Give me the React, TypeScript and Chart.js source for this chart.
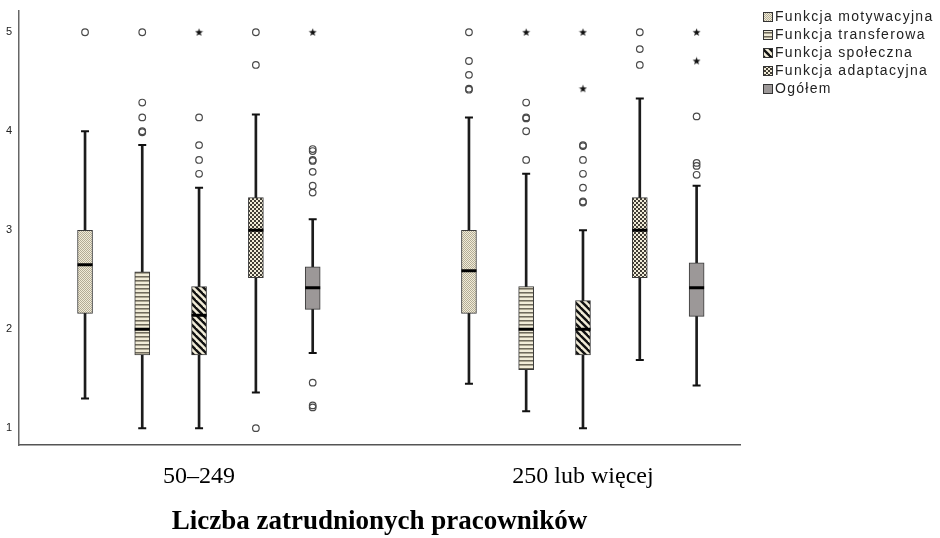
import { useEffect, useRef } from "react";
import { Chart, registerables } from "chart.js";

Chart.register(...registerables);

// Company size groups on the x axis
const GROUPS = ["50–249", "250 lub więcej"];
const SERIES = [
  "Funkcja motywacyjna",
  "Funkcja transferowa",
  "Funkcja społeczna",
  "Funkcja adaptacyjna",
  "Ogółem",
];
const Y_TICKS = [1, 2, 3, 4, 5];
const X_TITLE = "Liczba zatrudnionych pracowników";

// Box-plot statistics: one row per series, one value per group
const WHISKER_LOW = [[1.3, 1.45], [1.0, 1.17], [1.0, 1.0], [1.36, 1.69], [1.76, 1.43]];
const Q1 = [[2.16, 2.16], [1.74, 1.59], [1.74, 1.74], [2.52, 2.52], [2.2, 2.13]];
const MEDIAN = [[2.65, 2.59], [2.0, 2.0], [2.14, 2.0], [3.0, 3.0], [2.42, 2.42]];
const Q3 = [[3.0, 3.0], [2.58, 2.43], [2.43, 2.29], [3.33, 3.33], [2.63, 2.67]];
const WHISKER_HIGH = [[4.0, 4.14], [3.86, 3.57], [3.43, 3.0], [4.17, 4.33], [3.11, 3.45]];

// Outliers (circles) and extreme values (stars)
const OUTLIERS = [
  [[5.0], [5.0, 4.71, 4.57, 4.43, 4.42]],
  [[5.0, 4.29, 4.14, 4.0, 3.99], [4.29, 4.14, 4.13, 4.0, 3.71]],
  [[4.14, 3.86, 3.71, 3.57], [3.86, 3.85, 3.71, 3.57, 3.43, 3.29, 3.28]],
  [[5.0, 4.67, 1.0], [5.0, 4.83, 4.67]],
  [[3.82, 3.8, 3.71, 3.7, 3.59, 3.45, 3.38, 1.46, 1.23, 1.21], [4.15, 3.68, 3.65, 3.56]],
];
const EXTREMES = [
  [[], []],
  [[], [5.0]],
  [[5.0], [5.0, 4.43]],
  [[], []],
  [[5.0], [5.0, 4.71]],
];

// horizontal offset of each series inside its group (x-axis units)
const SERIES_OFFSET = [-0.297, -0.148, 0, 0.148, 0.296];

const CREAM = "#f1ecd8";

function tile(size: number, draw: (c: CanvasRenderingContext2D) => void): CanvasPattern | string {
  const cv = document.createElement("canvas");
  cv.width = size;
  cv.height = size;
  const c = cv.getContext("2d")!;
  draw(c);
  const p = c.createPattern(cv, "repeat");
  return p || CREAM;
}

function makeFills(): (CanvasPattern | string)[] {
  const dots = tile(2, (c) => {
    c.fillStyle = CREAM;
    c.fillRect(0, 0, 2, 2);
    c.fillStyle = "#b3ac96";
    c.fillRect(0, 0, 1, 1);
    c.fillRect(1, 1, 1, 1);
  });
  const stripes = tile(4, (c) => {
    c.fillStyle = CREAM;
    c.fillRect(0, 0, 4, 4);
    c.fillStyle = "#6f6a5c";
    c.fillRect(0, 0, 4, 1);
    c.fillStyle = "#aaa490";
    c.fillRect(0, 1, 4, 1);
  });
  const diagonal = tile(7, (c) => {
    c.fillStyle = CREAM;
    c.fillRect(0, 0, 7, 7);
    c.strokeStyle = "#111";
    c.lineWidth = 2.4;
    for (const k of [-7, 0, 7]) {
      c.beginPath();
      c.moveTo(k - 1, -1);
      c.lineTo(k + 8, 8);
      c.stroke();
    }
  });
  const checker = tile(4, (c) => {
    c.fillStyle = "#423e36";
    c.fillRect(0, 0, 4, 4);
    c.fillStyle = CREAM;
    c.fillRect(0, 0, 2, 2);
    c.fillRect(2, 2, 2, 2);
  });
  return [dots, stripes, diagonal, checker, "#9c9898"];
}

function makeStar(): HTMLCanvasElement {
  const cv = document.createElement("canvas");
  cv.width = 9;
  cv.height = 9;
  const c = cv.getContext("2d")!;
  c.fillStyle = "#111";
  c.beginPath();
  for (let i = 0; i < 10; i++) {
    const r = i % 2 === 0 ? 4.2 : 1.7;
    const a = -Math.PI / 2 + (i * Math.PI) / 5;
    const px = 4.5 + r * Math.cos(a);
    const py = 4.7 + r * Math.sin(a);
    if (i === 0) c.moveTo(px, py);
    else c.lineTo(px, py);
  }
  c.closePath();
  c.fill();
  return cv;
}

const xOf = (s: number, g: number) => g + SERIES_OFFSET[s];

const LEGEND = { dx: 23, top: 17, step: 18, box: 10 };

const legendPlugin = {
  id: "seriesLegend",
  afterDraw(chart: any) {
    const ctx: CanvasRenderingContext2D = chart.ctx;
    const left = chart.chartArea.right + LEGEND.dx;
    const boxes = chart.data.datasets.filter((d: any) => d.isBox);
    ctx.save();
    ctx.font = '14px "Liberation Sans", Arial, sans-serif';
    (ctx as any).letterSpacing = "1.3px";
    ctx.textBaseline = "middle";
    boxes.forEach((ds: any, i: number) => {
      const y = LEGEND.top + i * LEGEND.step;
      ctx.fillStyle = ds.backgroundColor;
      ctx.fillRect(left, y - LEGEND.box / 2, LEGEND.box, LEGEND.box);
      ctx.strokeStyle = "#333";
      ctx.lineWidth = 1;
      ctx.strokeRect(left + 0.5, y - LEGEND.box / 2 + 0.5, LEGEND.box - 1, LEGEND.box - 1);
      ctx.fillStyle = "#222";
      ctx.fillText(ds.label, left + LEGEND.box + 2, y);
    });
    ctx.restore();
  },
};

export default function App() {
  const ref = useRef<HTMLCanvasElement | null>(null);

  useEffect(() => {
    if (!ref.current) return;
    const fills = makeFills();
    const star = makeStar();
    const datasets: any[] = [];

    SERIES.forEach((name, s) => {
      // interquartile box
      datasets.push({
        type: "bar",
        label: name,
        isBox: true,
        data: GROUPS.map((_, g) => ({ x: xOf(s, g), y: [Q1[s][g], Q3[s][g]] })),
        backgroundColor: fills[s],
        borderColor: "#3a3a3a",
        borderWidth: 1,
        borderSkipped: false,
        barThickness: 15,
        grouped: false,
        order: 2,
      });
      // whisker stem
      datasets.push({
        type: "bar",
        label: "",
        data: GROUPS.map((_, g) => ({ x: xOf(s, g), y: [WHISKER_LOW[s][g], WHISKER_HIGH[s][g]] })),
        backgroundColor: "#1c1c1c",
        borderWidth: 0,
        barThickness: 2,
        grouped: false,
        order: 3,
      });
      // whisker caps
      datasets.push({
        type: "scatter",
        label: "",
        data: GROUPS.flatMap((_, g) => [
          { x: xOf(s, g), y: WHISKER_LOW[s][g] },
          { x: xOf(s, g), y: WHISKER_HIGH[s][g] },
        ]),
        pointStyle: "line",
        radius: 4,
        borderWidth: 2,
        borderColor: "#111",
        order: 0,
      });
      // median
      datasets.push({
        type: "scatter",
        label: "",
        data: GROUPS.map((_, g) => ({ x: xOf(s, g), y: MEDIAN[s][g] })),
        pointStyle: "line",
        radius: 7.5,
        borderWidth: 3,
        borderColor: "#000",
        order: 0,
      });
      // outliers
      datasets.push({
        type: "scatter",
        label: "",
        data: GROUPS.flatMap((_, g) => OUTLIERS[s][g].map((v) => ({ x: xOf(s, g), y: v }))),
        pointStyle: "circle",
        radius: 3.3,
        borderWidth: 1.2,
        borderColor: "#4a4a4a",
        backgroundColor: "rgba(255,255,255,0)",
        order: 0,
      });
      // extremes
      datasets.push({
        type: "scatter",
        label: "",
        data: GROUPS.flatMap((_, g) => EXTREMES[s][g].map((v) => ({ x: xOf(s, g), y: v }))),
        pointStyle: star,
        order: 0,
      });
    });

    const chart = new Chart(ref.current, {
      type: "bar",
      data: { datasets },
      options: {
        animation: false,
        responsive: false,
        events: [],
        layout: { padding: { top: 9, right: 200, left: 0, bottom: 0 } },
        plugins: { legend: { display: false }, tooltip: { enabled: false } },
        scales: {
          x: {
            type: "linear",
            offset: false,
            min: -0.469,
            max: 1.409,
            grid: { display: false, drawTicks: false },
            border: { display: true, color: "#555", width: 1.5 },
            afterBuildTicks: (sc: any) => {
              sc.ticks = GROUPS.map((_, i) => ({ value: i }));
            },
            afterFit: (sc: any) => {
              sc.height = 93;
              sc.paddingLeft = 0;
              sc.paddingRight = 0;
            },
            ticks: {
              autoSkip: false,
              maxRotation: 0,
              padding: 17,
              color: "#000",
              font: { family: '"Liberation Serif", "Times New Roman", serif', size: 24 },
              callback: (v: any) => GROUPS[v as number] ?? "",
            },
            title: {
              display: true,
              text: X_TITLE,
              color: "#000",
              font: { family: '"Liberation Serif", "Times New Roman", serif', size: 27, weight: "bold" },
              padding: { top: 0, bottom: 0 },
            },
          },
          y: {
            type: "linear",
            min: 0.83,
            max: 5.22,
            grid: { display: false, drawTicks: false },
            border: { display: true, color: "#666", width: 1.5 },
            afterBuildTicks: (sc: any) => {
              sc.ticks = Y_TICKS.map((v) => ({ value: v }));
            },
            afterFit: (sc: any) => {
              sc.width = 19;
              sc.paddingTop = 0;
              sc.paddingBottom = 0;
            },
            ticks: {
              padding: 7,
              color: "#222",
              font: { family: '"Liberation Sans", Arial, sans-serif', size: 11 },
            },
          },
        },
      },
      plugins: [legendPlugin],
    });

    return () => chart.destroy();
  }, []);

  return (
    <div style={{ position: "absolute", left: 0, top: 0, width: 940, height: 538, background: "#fff" }}>
      <canvas ref={ref} width={940} height={538} style={{ display: "block" }} />
    </div>
  );
}
